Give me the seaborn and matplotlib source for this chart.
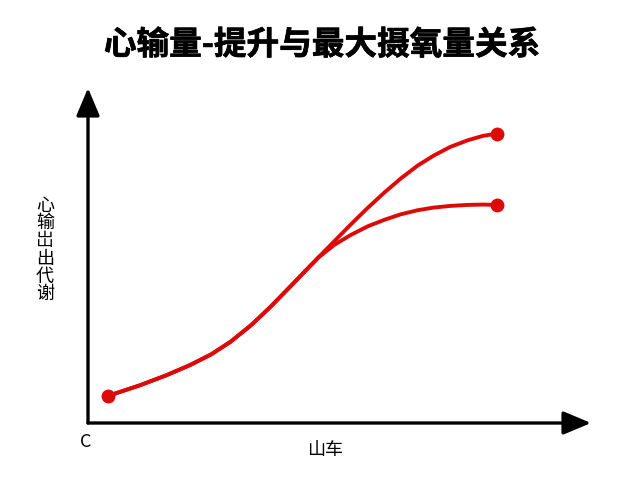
import matplotlib
matplotlib.use("Agg")
import matplotlib.pyplot as plt
import matplotlib.patheffects as pe
import seaborn as sns
import pandas as pd

sns.set_theme(style="white")
plt.rcParams['font.family'] = ['Noto Sans CJK SC', 'DejaVu Sans']

title = "心输量-提升与最大摄氧量关系"
y_label_chars = ["心", "输", "岀", "出", "代", "谢"]
x_label = "山车"
origin_label = "C"

# shared trunk
trunk_x = [0.40, 1.04, 1.55, 2.03, 2.45, 2.83, 3.25, 3.63, 4.00, 4.36, 4.58]
trunk_y = [0.81, 1.13, 1.42, 1.73, 2.05, 2.42, 2.93, 3.47, 4.04, 4.60, 4.94]
# upper branch
upper_x = [4.58, 4.88, 5.22, 5.56, 5.90, 6.22, 6.55, 6.87, 7.20, 7.55, 7.85, 8.13]
upper_y = [4.94, 5.40, 5.92, 6.42, 6.89, 7.30, 7.68, 7.98, 8.24, 8.44, 8.57, 8.64]
# lower branch
lower_x = [4.58, 4.90, 5.22, 5.56, 5.90, 6.22, 6.55, 6.87, 7.20, 7.55, 7.85, 8.13]
lower_y = [4.94, 5.32, 5.61, 5.87, 6.07, 6.23, 6.35, 6.43, 6.48, 6.51, 6.52, 6.51]

red = "#dd0a0a"

fig = plt.figure(figsize=(6.4, 4.8), dpi=100)
fig.patch.set_facecolor("white")
ax = fig.add_axes([88/640, (480-423)/480, 503/640, 335/480])
ax.set_facecolor("white")

segments = []
for name, xs, ys in [("upper", trunk_x + upper_x, trunk_y + upper_y),
                     ("lower", trunk_x + lower_x, trunk_y + lower_y)]:
    segments.append(pd.DataFrame({"x": xs, "y": ys, "branch": name}))
df = pd.concat(segments, ignore_index=True)

sns.lineplot(data=df, x="x", y="y", units="branch", estimator=None, sort=False,
             color=red, linewidth=2.8, ax=ax, solid_capstyle="round",
             solid_joinstyle="round")

ends = pd.DataFrame({"x": [trunk_x[0], upper_x[-1], lower_x[-1]],
                     "y": [trunk_y[0], upper_y[-1], lower_y[-1]]})
sns.scatterplot(data=ends, x="x", y="y", color=red, s=100, edgecolor=red,
                linewidth=0, ax=ax, zorder=5)

ax.set_xlim(0, 10)
ax.set_ylim(0, 10)
ax.set_xticks([])
ax.set_yticks([])
ax.set_xlabel("")
ax.set_ylabel("")
for s in ["top", "right", "left", "bottom"]:
    ax.spines[s].set_visible(False)

# axis arrows
arrow = dict(arrowstyle="-|>,head_length=1.0,head_width=0.42", lw=2.4,
             color="black", shrinkA=0, shrinkB=0, mutation_scale=17)
ax.annotate("", xy=(0, 1.0), xytext=(0, 0), xycoords="axes fraction",
            textcoords="axes fraction", arrowprops=arrow)
ax.annotate("", xy=(1.0, 0), xytext=(0, 0), xycoords="axes fraction",
            textcoords="axes fraction", arrowprops=arrow)

fig.text(322/640, 1 - 45/480, title, ha="center", va="center",
         fontsize=23.5, fontweight="bold", color="black",
         path_effects=[pe.withStroke(linewidth=0.5, foreground="black")])
fig.text(45/640, 1 - 250/480, "\n".join(y_label_chars), ha="center", va="center",
         fontsize=13, linespacing=0.98, color="black")
fig.text(86/640, 1 - 442/480, origin_label, ha="center", va="center",
         fontsize=13, color="black")
fig.text(325/640, 1 - 450/480, x_label, ha="center", va="center",
         fontsize=13, color="black")

fig.savefig("out.png", dpi=100, facecolor="white")
